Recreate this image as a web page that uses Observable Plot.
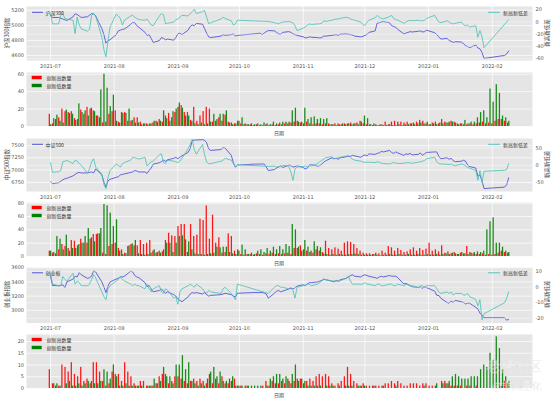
<!DOCTYPE html>
<html><head><meta charset="utf-8">
<script src="https://cdn.jsdelivr.net/npm/d3@7"></script>
<script src="https://cdn.jsdelivr.net/npm/@observablehq/plot@0.6"></script>
<style>
body{margin:0;background:#fff;}
#root{position:relative;width:553px;height:399px;overflow:hidden;background:#fff;}
</style></head><body><div id="root"></div>
<script>
// ---------------- data ----------------
const dates = [
"2021-07-01","2021-07-02","2021-07-05","2021-07-06","2021-07-07","2021-07-08","2021-07-09","2021-07-12","2021-07-13","2021-07-14","2021-07-15","2021-07-16","2021-07-19","2021-07-20","2021-07-21","2021-07-22","2021-07-23","2021-07-26","2021-07-27","2021-07-28","2021-07-29","2021-07-30",
"2021-08-02","2021-08-03","2021-08-04","2021-08-05","2021-08-06","2021-08-09","2021-08-10","2021-08-11","2021-08-12","2021-08-13","2021-08-16","2021-08-17","2021-08-18","2021-08-19","2021-08-20","2021-08-23","2021-08-24","2021-08-25","2021-08-26","2021-08-27","2021-08-30","2021-08-31",
"2021-09-01","2021-09-02","2021-09-03","2021-09-06","2021-09-07","2021-09-08","2021-09-09","2021-09-10","2021-09-13","2021-09-14","2021-09-15","2021-09-16","2021-09-17","2021-09-22","2021-09-23","2021-09-24","2021-09-27","2021-09-28","2021-09-29","2021-09-30",
"2021-10-08","2021-10-11","2021-10-12","2021-10-13","2021-10-14","2021-10-15","2021-10-18","2021-10-19","2021-10-20","2021-10-21","2021-10-22","2021-10-25","2021-10-26","2021-10-27","2021-10-28","2021-10-29",
"2021-11-01","2021-11-02","2021-11-03","2021-11-04","2021-11-05","2021-11-08","2021-11-09","2021-11-10","2021-11-11","2021-11-12","2021-11-15","2021-11-16","2021-11-17","2021-11-18","2021-11-19","2021-11-22","2021-11-23","2021-11-24","2021-11-25","2021-11-26","2021-11-29","2021-11-30",
"2021-12-01","2021-12-02","2021-12-03","2021-12-06","2021-12-07","2021-12-08","2021-12-09","2021-12-10","2021-12-13","2021-12-14","2021-12-15","2021-12-16","2021-12-17","2021-12-20","2021-12-21","2021-12-22","2021-12-23","2021-12-24","2021-12-27","2021-12-28","2021-12-29","2021-12-30","2021-12-31",
"2022-01-04","2022-01-05","2022-01-06","2022-01-07","2022-01-10","2022-01-11","2022-01-12","2022-01-13","2022-01-14","2022-01-17","2022-01-18","2022-01-19","2022-01-20","2022-01-21","2022-01-24","2022-01-25","2022-01-26","2022-01-27","2022-01-28",
"2022-02-07","2022-02-08","2022-02-09"];

const monthTicks = ["2021-07-01","2021-08-01","2021-09-01","2021-10-01","2021-11-01","2021-12-01","2022-01-01","2022-02-01"];

// 沪深300
const hs300 = [
5140,5110,5110,5100,5090,5080,5070,5120,5160,5150,5130,5110,5120,5140,5160,5160,5130,4960,4880,4765,4800,4810,
4880,4930,4940,4950,4955,5015,5045,5040,5000,4980,4910,4870,4880,4830,4775,4800,4840,4830,4810,4820,4805,4840,
4890,4900,4880,4940,4990,5010,5000,5030,5020,4960,4900,4850,4840,4860,4880,4870,4880,4890,4860,4870,
4890,4900,4880,4900,4920,4935,4930,4910,4890,4885,4910,4920,4910,4890,4880,4870,
4850,4835,4840,4850,4845,4840,4835,4840,4860,4860,4870,4875,4880,4870,4885,4890,4885,4880,4875,4860,4850,4855,
4870,4880,4910,4930,5035,5040,5050,5055,5040,5000,4990,4980,4950,4890,4900,4910,4920,4915,4925,4930,4915,4920,4940,
4905,4880,4850,4820,4830,4800,4790,4775,4785,4780,4760,4730,4720,4705,4740,4700,4690,4640,4560,
4600,4620,4660];
const hs300Diff = [
13,-3,-3,11,14,6,5,3,-19,8,-5,-11,-15,-12,11,14,10,-25,-45,-57,-30,-8,
13,10,6,-5,3,10,11,8,6,4,3,5,0,-5,-6,10,14,12,-3,-2,0,4,
5,8,11,10,14,17,21,14,17,19,8,-3,-1,5,8,6,2,-5,-3,3,
null,null,null,null,null,1,-1,-2,-3,-1,0,1,0,-1,-6,-14,
-10,-8,-5,-3,-4,-3,-3,-2,2,1,3,4,5,5,6,8,7,5,4,3,0,-4,
-6,0,3,7,11,8,6,5,9,11,6,4,3,-2,0,2,3,2,3,2,2,3,6,
11,5,0,-1,2,0,-2,-3,-2,0,-4,-6,-5,-8,-6,-25,-14,-24,-42,
null,null,4];
const hs300High = [
14,3,8,10,20,17,16,17,9,8,19,14,22,20,18,12,10,4,5,14,17,18,
5,16,16,6,6,10,10,5,3,3,3,4,6,8,5,12,15,10,16,22,24,16,
16,7,22,6,12,17,22,20,5,6,10,6,13,5,4,3,6,3,2,2,
2,1,2,1,1,2,1,2,1,2,2,3,3,4,5,6,
4,3,5,3,2,3,3,2,3,3,2,3,3,2,3,3,4,3,4,6,3,2,
2,1,2,1,2,5,2,5,6,5,5,4,5,3,4,5,7,6,3,2,4,5,3,
8,5,4,6,5,3,3,2,2,3,2,3,4,5,3,4,3,6,8,
8,6,4];
const hs300Low = [
2,9,13,6,4,19,15,14,7,26,16,18,12,21,17,12,42,60,44,23,36,6,
4,15,15,20,7,4,4,2,3,2,3,6,5,6,18,9,6,17,20,27,21,12,
12,6,3,2,4,2,3,5,14,8,14,14,18,4,2,3,6,10,3,2,
3,2,3,2,4,3,2,5,3,4,5,5,5,18,21,5,
5,21,8,10,11,8,9,8,9,2,2,1,2,3,2,3,2,3,2,5,12,9,
2,3,1,2,1,1,2,1,1,2,1,2,2,3,2,3,4,3,5,2,3,2,4,
3,4,5,5,4,2,3,7,3,5,5,10,16,18,10,43,28,48,38,
12,10,6];

// 中证500
const zz500 = [
6760,6720,6740,6770,6800,6820,6830,6880,6910,6940,6950,6940,6940,6950,6960,6940,7020,6900,6760,6650,6780,6810,
6850,6860,6900,6910,6920,6950,6960,6990,6980,6960,6960,6930,6990,7040,7120,7150,7170,7200,7180,7210,7240,7260,
7230,7260,7290,7360,7440,7600,7610,7615,7620,7610,7560,7430,7400,7420,7460,7450,7300,7150,7060,7100,
7120,7122,7120,7125,7060,6990,7010,7040,7060,7090,7050,7100,7090,7060,7070,7090,
7050,7020,7040,7100,7110,7080,7090,7120,7160,7190,7250,7230,7240,7220,7250,7270,7280,7280,7300,7290,7260,7290,
7310,7290,7330,7320,7340,7350,7380,7370,7400,7360,7340,7370,7350,7300,7330,7320,7340,7310,7320,7350,7300,7330,7360,
7370,7370,7280,7230,7250,7220,7240,7190,7170,7180,7200,7180,7100,7070,7040,6870,6900,6780,6620,
6650,6700,6840];
const zz500Diff = [
8,-20,-18,-15,10,12,14,5,15,12,5,0,-22,-10,10,19,-5,-25,-55,-67,-35,-15,
4,0,-5,5,8,15,23,22,20,18,23,-2,5,10,12,30,33,8,5,15,12,10,
8,12,20,48,60,75,45,32,60,30,10,4,5,12,15,20,15,5,-5,2,
null,null,null,null,null,-3,-2,-5,-3,-4,0,-2,-20,-43,-10,-5,
-3,-2,-5,0,-2,5,10,14,18,22,25,19,20,22,23,27,28,22,18,15,12,10,
8,9,9,8,10,9,6,5,4,6,8,7,5,6,7,8,7,6,9,10,12,14,19,
23,10,5,4,3,2,4,0,-1,4,2,-2,-6,-8,-15,-43,-15,-50,-17,
-14,-12,5];
const zz500High = [
8,5,4,10,18,15,12,24,23,16,26,20,20,26,33,33,34,5,3,15,18,20,
12,10,5,15,18,16,16,24,18,20,24,8,5,8,7,24,35,31,30,45,48,48,
6,48,30,32,56,54,76,26,62,20,28,5,6,34,30,8,10,3,2,3,
3,2,4,3,2,4,3,5,3,4,3,4,5,3,12,12,
16,10,8,6,5,10,8,6,23,12,10,13,11,8,20,22,21,18,12,8,5,4,
4,3,5,4,8,5,15,13,8,12,9,6,7,10,13,8,12,9,11,20,8,10,7,
16,5,7,4,6,3,5,4,15,6,4,3,3,4,2,3,2,3,5,
8,6,5];
const zz500Low = [
8,6,30,26,10,32,8,12,12,18,20,30,42,28,22,34,42,78,76,65,45,55,
8,3,4,16,19,24,4,3,2,3,5,10,6,5,10,20,20,6,20,30,31,25,
22,10,4,3,3,2,3,4,5,14,13,14,14,6,4,3,8,17,10,3,
5,3,8,10,6,12,8,14,10,15,10,18,15,48,40,14,
8,24,14,8,22,15,13,4,3,2,3,2,3,2,2,3,3,4,3,2,2,2,
2,3,2,1,2,2,3,2,2,3,2,2,3,2,2,3,2,2,3,2,2,3,2,
3,4,3,5,4,3,6,4,3,5,6,7,6,8,40,52,58,20,20,
14,8,6];

// 创业板指
const cyb = [
3480,3350,3345,3350,3360,3320,3400,3440,3480,3470,3530,3500,3450,3460,3480,3555,3540,3400,3330,3250,3340,3400,
3440,3450,3470,3470,3480,3550,3540,3490,3470,3460,3390,3330,3350,3300,3260,3280,3300,3270,3240,3260,3220,3200,
3160,3140,3120,3190,3230,3250,3240,3250,3230,3250,3220,3200,3210,3220,3230,3240,3220,3200,3190,3240,
3250,3250,3250,3245,3230,3170,3240,3270,3280,3260,3270,3300,3310,3300,3320,3340,
3360,3350,3370,3390,3390,3400,3410,3420,3440,3430,3410,3400,3420,3410,3430,3450,3470,3490,3500,3480,3470,3490,
3500,3490,3480,3460,3450,3470,3480,3470,3490,3480,3480,3480,3460,3370,3380,3360,3350,3330,3320,3330,3310,3330,3320,
3270,3210,3210,3170,3110,3100,3130,3110,3140,3120,3110,3090,3100,3100,3040,3020,2960,2930,2895,
2895,2860,2875];
const cybDiff = [
9,2,1,1,7,5,4,9,2,4,3,1,1,2,5,8,6,-3,-6,-8,-1,1,
4,5,7,5,4,2,1,2,1,1,-1,2,-1,-3,-1,1,-3,-4,-1,-2,-7,-6,
-11,-3,-1,1,2,1,0,2,-1,-3,-4,-2,-3,-4,-1,0,-4,-6,-8,2,
null,null,null,null,null,-4,0,1,1,0,0,-1,0,-2,-7,0,
1,1,2,2,1,2,3,4,5,5,4,4,4,4,4,6,7,4,2,2,2,2,
3,2,2,1,2,2,1,1,2,2,1,1,2,1,2,2,1,1,0,1,1,0,1,
1,-1,-3,-4,-3,-4,-3,-5,-4,-4,-5,-5,-4,-6,-8,-12,-8,-21,-17,
-10,-7,-3];
const cybHigh = [
8,2,1,1,10,9,7,11,6,5,9,3,4,2,11,11,7,3,1,2,7,6,
6,3,11,7,5,2,1,3,3,1,1,1,2,5,6,6,2,3,5,5,4,3,
2,3,4,3,4,3,2,6,2,4,2,5,2,2,3,4,1,1,0,1,
0,0,0,0,1,3,1,3,2,2,3,2,4,2,3,4,
4,2,3,4,3,5,6,5,6,5,2,1,2,3,5,9,6,3,2,1,2,1,
1,1,1,1,1,2,2,3,2,3,2,1,1,2,2,2,1,2,2,1,1,1,0,
3,3,2,1,1,1,1,0,1,1,0,1,0,0,0,0,0,0,0,
1,3,2];
const cybLow = [
0,2,2,1,0,2,3,1,1,2,1,2,3,3,2,2,3,8,7,4,10,5,
1,1,2,1,1,1,1,1,0,1,1,4,2,3,9,5,5,2,10,10,14,8,
11,3,2,1,2,1,4,7,9,5,7,3,3,4,5,1,1,1,1,1,
1,1,1,1,0,1,4,5,6,6,4,5,3,6,10,3,
4,3,1,1,1,1,1,0,1,1,1,0,1,0,1,1,1,0,1,1,1,0,
0,1,0,0,1,0,0,0,1,0,0,0,0,0,0,0,0,1,0,0,0,2,0,
2,2,3,5,6,5,4,4,4,5,5,5,8,10,9,15,12,22,17,
8,5,3];

// tick values
const hs300Ticks = [4600,4800,5000,5200];
const hs300DiffTicks = [-60,-40,-20,0,20];
const hs300BarTicks = [0,20,40,60];
const zz500Ticks = [6750,7000,7250,7500];
const zz500DiffTicks = [-50,0,50];
const zz500BarTicks = [0,20,40,60,80];
const cybTicks = [3000,3200,3400,3600];
const cybDiffTicks = [-20,-10,0,10];
const cybBarTicks = [0,5,10,15,20];

// ---------------- drawing ----------------
const W = 553, ML = 26, MR = 21;
const FONT = '"DejaVu Sans","Noto Sans CJK SC",sans-serif';
const CJK = '"Noto Sans CJK SC","DejaVu Sans",sans-serif';
const BLUE = "#4242d8", TEAL = "#45c2b4", BG = "#e5e5e5";
const numFmt = d => String(d);
const xDomain = [new Date("2021-06-19T08:00:00Z"), new Date("2022-02-20T14:00:00Z")];
const mTicks = monthTicks.map(d => new Date(d));
const root = document.getElementById("root");
const baseStyle = {fontFamily: FONT, fontSize: "5px", color: "#555", background: "transparent", overflow: "visible"};

function place(el, top) {
  el.style.position = "absolute"; el.style.left = "0px"; el.style.top = top + "px";
  root.appendChild(el);
}

function linePanel(T, B, idx, diff, lDom, lTicks, rDom, rTicks) {
  const rows = dates.map((d, i) => ({date: new Date(d), v: idx[i] ?? null, dv: diff[i] ?? null}));
  const common = {width: W, height: B - T + 12, marginLeft: ML, marginRight: MR, marginTop: 0, marginBottom: 12, style: baseStyle};
  const p1 = Plot.plot({...common,
    x: {type: "utc", domain: xDomain},
    y: {domain: lDom},
    marks: [
      Plot.frame({fill: BG, stroke: "none"}),
      Plot.gridX(mTicks, {stroke: "#fff", strokeOpacity: 1, strokeWidth: 0.7}),
      Plot.gridY(lTicks, {stroke: "#fff", strokeOpacity: 1, strokeWidth: 0.7}),
      Plot.axisX(mTicks, {tickFormat: d3.utcFormat("%Y-%m"), tickSize: 0, tickPadding: 3.5, label: null}),
      Plot.axisY(lTicks, {tickSize: 0, tickPadding: 2.5, tickFormat: numFmt, label: null}),
      Plot.line(rows.filter(r => r.v != null), {x: "date", y: "v", stroke: BLUE, strokeWidth: 0.8})
    ]});
  const p2 = Plot.plot({...common,
    x: {type: "utc", domain: xDomain, axis: null},
    y: {domain: rDom},
    marks: [
      Plot.gridY(rTicks, {stroke: "#fff", strokeOpacity: 0.8, strokeWidth: 0.5}),
      Plot.axisY(rTicks, {anchor: "right", tickSize: 0, tickPadding: 3, tickFormat: numFmt, label: null}),
      Plot.line(rows.filter(r => r.dv != null), {x: "date", y: "dv", stroke: TEAL, strokeWidth: 0.8})
    ]});
  place(p1, T); place(p2, T);
}

function barPanel(T, B, hi, lo, yDom, yTicks) {
  const n = dates.length;
  const t0 = +new Date(dates[0]), t1 = +new Date(dates[n - 1]);
  const step = (t1 - t0) / (n - 1), DAY = 864e5, w = 0.62 * DAY;
  const rows = dates.map((d, i) => ({c: t0 + i * step, hi: hi[i] ?? 0, lo: lo[i] ?? 0}));
  const p = Plot.plot({width: W, height: B - T + 12, marginLeft: ML, marginRight: MR, marginTop: 0, marginBottom: 12, style: baseStyle,
    x: {type: "utc", domain: xDomain, axis: null},
    y: {domain: yDom},
    marks: [
      Plot.frame({fill: BG, stroke: "none"}),
      Plot.gridX(mTicks, {stroke: "#fff", strokeOpacity: 1, strokeWidth: 0.7}),
      Plot.gridY(yTicks, {stroke: "#fff", strokeOpacity: 1, strokeWidth: 0.7}),
      Plot.axisY(yTicks, {tickSize: 0, tickPadding: 2.5, tickFormat: numFmt, label: null}),
      Plot.rect(rows, {x1: r => new Date(r.c - w), x2: r => new Date(r.c), y1: () => 0, y2: "hi", fill: "#ff0000", fillOpacity: 0.9}),
      Plot.rect(rows, {x1: r => new Date(r.c), x2: r => new Date(r.c + w), y1: () => 0, y2: "lo", fill: "#008000", fillOpacity: 0.9})
    ]});
  place(p, T);
}

const P = [
  {T: 6, B: 60}, {T: 72, B: 126}, {T: 138, B: 191},
  {T: 202, B: 256}, {T: 266.5, B: 322}, {T: 334, B: 388}
];

linePanel(P[0].T, P[0].B, hs300, hs300Diff, [4532, 5258], hs300Ticks, [-63, 25.5], hs300DiffTicks);
barPanel(P[1].T, P[1].B, hs300High, hs300Low, [0, 62], hs300BarTicks);
linePanel(P[2].T, P[2].B, zz500, zz500Diff, [6560, 7645], zz500Ticks, [-75, 77], zz500DiffTicks);
barPanel(P[3].T, P[3].B, zz500High, zz500Low, [0, 81], zz500BarTicks);
linePanel(P[4].T, P[4].B, cyb, cybDiff, [2821, 3603], cybTicks, [-23, 12.7], cybDiffTicks);
barPanel(P[5].T, P[5].B, cybHigh, cybLow, [0, 23], cybBarTicks);

// overlay: legends, axis titles, watermark
const ov = d3.select(root).append("svg").attr("width", W).attr("height", 399)
  .style("position", "absolute").style("left", "0px").style("top", "0px").style("overflow", "visible");
function txt(s, x, y, size, fill, anchor = "start", rot = 0, family = CJK) {
  ov.append("text").attr("transform", `translate(${x},${y}) rotate(${rot})`)
    .attr("text-anchor", anchor).attr("dominant-baseline", "central")
    .attr("font-family", family).attr("font-size", size).attr("fill", fill).text(s);
}
const lineNames = ["沪深300", "中证500", "创业板"];
const lineTitles = ["沪深300指数", "中证500指数", "创业板指数"];
[0, 2, 4].forEach((k, j) => {
  const {T, B} = P[k];
  ov.append("line").attr("x1", 32).attr("x2", 43).attr("y1", T + 6.3).attr("y2", T + 6.3).attr("stroke", BLUE).attr("stroke-width", 0.9);
  txt(lineNames[j], 45.5, T + 6.3, 5, "#333");
  ov.append("line").attr("x1", 488).attr("x2", 500).attr("y1", T + 6.3).attr("y2", T + 6.3).attr("stroke", TEAL).attr("stroke-width", 0.9);
  txt("新高新低差", 503, T + 6.3, 5, "#333");
  txt(lineTitles[j], 7, (T + B) / 2, 5.5, "#444", "middle", -90);
  txt("新高新低差", 547, (T + B) / 2, 5.5, "#444", "middle", -90);
});
[1, 3, 5].forEach(k => {
  const {T, B} = P[k];
  ov.append("rect").attr("x", 31.7).attr("y", T + 3.8).attr("width", 10).attr("height", 3.4).attr("fill", "#ff0000");
  txt("创新高数量", 46.5, T + 5.5, 5, "#333");
  ov.append("rect").attr("x", 31.7).attr("y", T + 11.8).attr("width", 10).attr("height", 3.4).attr("fill", "#008000");
  txt("创新低数量", 46.5, T + 13.5, 5, "#333");
  txt("日期", 279, B + 6.3, 5, "#444", "middle");
});
ov.append("g").attr("opacity", 0.55).call(g => {
  g.append("text").attr("x", 514).attr("y", 365).attr("text-anchor", "middle").attr("dominant-baseline", "central")
    .attr("font-family", CJK).attr("font-size", 14).attr("fill", "#c4c4c4").attr("stroke", "#fff").attr("stroke-width", 0.4).text("老虎社区");
  g.append("text").attr("x", 517).attr("y", 385).attr("text-anchor", "middle").attr("dominant-baseline", "central")
    .attr("font-family", CJK).attr("font-size", 10).attr("fill", "#c4c4c4").attr("stroke", "#fff").attr("stroke-width", 0.3).text("@非同量化");
});
</script></body></html>
